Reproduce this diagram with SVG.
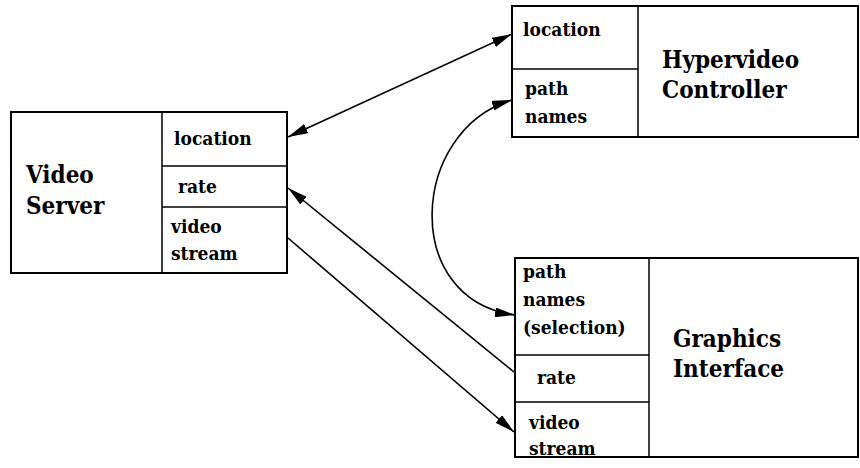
<svg xmlns="http://www.w3.org/2000/svg" width="860" height="468" viewBox="0 0 860 468">
<defs>
<style>
.box{fill:#fff;stroke:#000;stroke-width:2}
.div{fill:none;stroke:#000;stroke-width:1.5}
.big{font-size:24px}
.sm{font-size:19px}
.con{fill:none;stroke:#000;stroke-width:1.6}
</style>
<marker id="ah" viewBox="0 0 20 10" refX="20" refY="5" markerWidth="20" markerHeight="10" markerUnits="userSpaceOnUse" orient="auto-start-reverse">
<path d="M0,0 L20,5 L0,10 Z" fill="#000"/>
</marker>
</defs>
<rect width="860" height="468" fill="#fff"/>
<g font-family="'DejaVu Serif Condensed', 'DejaVu Serif', serif" font-stretch="condensed" font-weight="bold" fill="#000">
<g id="video-server">
<rect class="box" x="11" y="112" width="276" height="161"/>
<line class="div" x1="162" y1="112" x2="162" y2="273"/>
<line class="div" x1="162" y1="166" x2="287" y2="166"/>
<line class="div" x1="162" y1="207" x2="287" y2="207"/>
<text class="big" x="26" y="183">Video</text>
<text class="big" x="26" y="214">Server</text>
<text class="sm" x="174" y="145">location</text>
<text class="sm" x="178" y="193">rate</text>
<text class="sm" x="171" y="233">video</text>
<text class="sm" x="171" y="260">stream</text>
</g>
<g id="hypervideo-controller">
<rect class="box" x="512" y="6" width="346" height="131"/>
<line class="div" x1="638" y1="6" x2="638" y2="137"/>
<line class="div" x1="512" y1="69" x2="638" y2="69"/>
<text class="big" x="662" y="68">Hypervideo</text>
<text class="big" x="662" y="98">Controller</text>
<text class="sm" x="523" y="36">location</text>
<text class="sm" x="525" y="95">path</text>
<text class="sm" x="525" y="123">names</text>
</g>
<g id="graphics-interface">
<rect class="box" x="515" y="258" width="343" height="199"/>
<line class="div" x1="649" y1="258" x2="649" y2="457"/>
<line class="div" x1="515" y1="355" x2="649" y2="355"/>
<line class="div" x1="515" y1="402" x2="649" y2="402"/>
<text class="big" x="673" y="347">Graphics</text>
<text class="big" x="673" y="377">Interface</text>
<text class="sm" x="523" y="278">path</text>
<text class="sm" x="523" y="306">names</text>
<text class="sm" x="523" y="334">(selection)</text>
<text class="sm" x="537" y="384">rate</text>
<text class="sm" x="529" y="429">video</text>
<text class="sm" x="529" y="455">stream</text>
</g>
</g>
<g id="connectors">
<line class="con" x1="288" y1="137" x2="512" y2="34" marker-start="url(#ah)" marker-end="url(#ah)"/>
<path class="con" d="M512,100 C410,130 400,300 515,315" marker-start="url(#ah)" marker-end="url(#ah)"/>
<line class="con" x1="514" y1="372" x2="288" y2="188" marker-end="url(#ah)"/>
<line class="con" x1="288" y1="238" x2="514" y2="432" marker-end="url(#ah)"/>
</g>
</svg>
